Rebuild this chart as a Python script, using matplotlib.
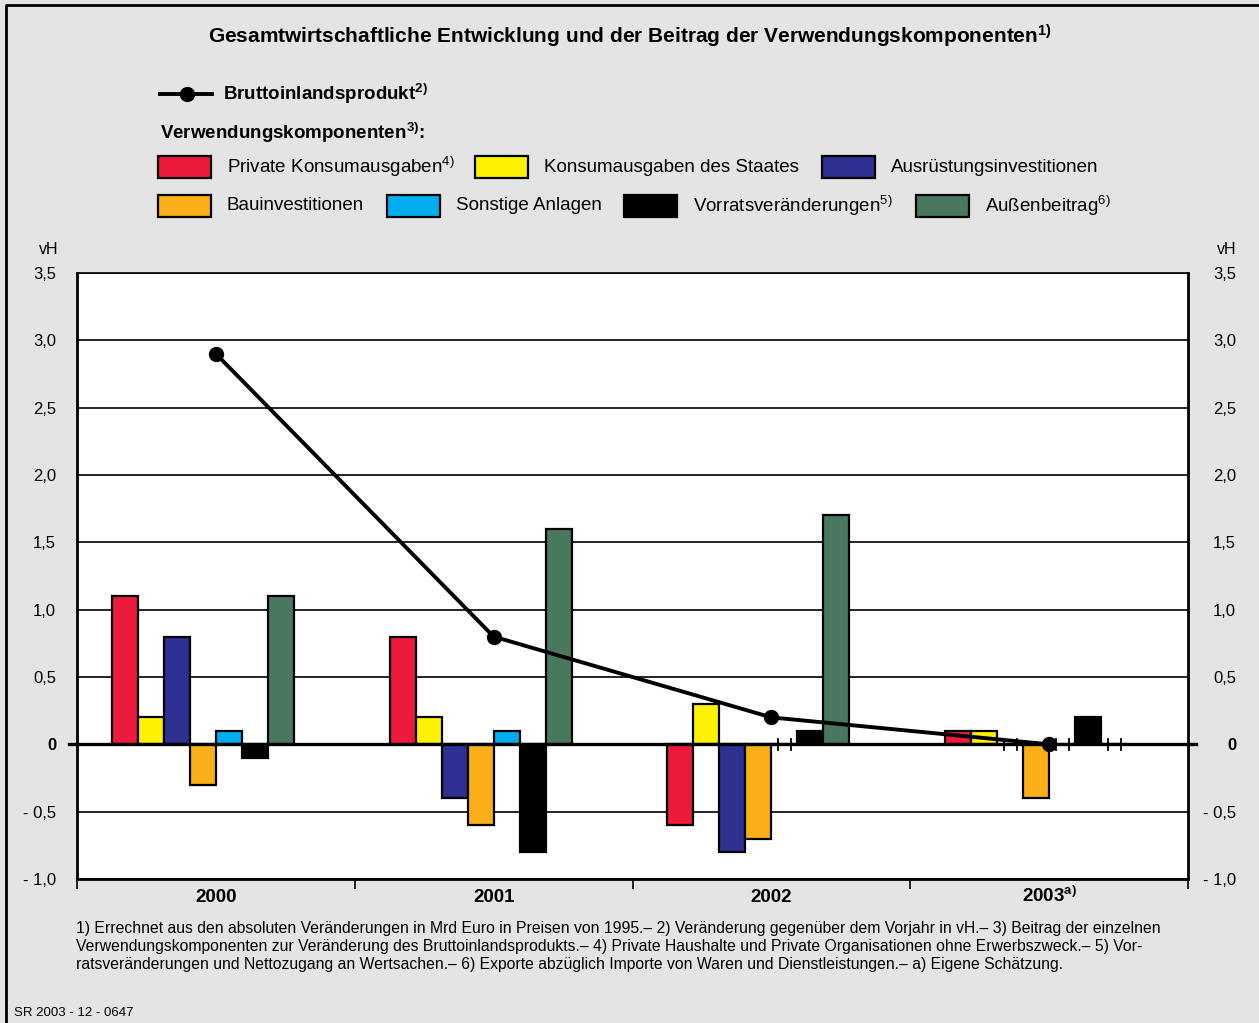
import numpy as np
import matplotlib.pyplot as plt
from matplotlib.patches import Rectangle
from matplotlib.lines import Line2D
import matplotlib.transforms as mtransforms

plt.rcParams['font.family'] = ['Liberation Sans', 'DejaVu Sans']
plt.rcParams['mathtext.default'] = 'regular'

# --- Daten ---
jahre = ['2000', '2001', '2002', '2003$^{a)}$']
bip = [2.9, 0.8, 0.2, 0.0]
komponenten = ['Private Konsumausgaben$^{4)}$', 'Konsumausgaben des Staates',
               'Ausrüstungsinvestitionen', 'Bauinvestitionen', 'Sonstige Anlagen',
               'Vorratsveränderungen$^{5)}$', 'Außenbeitrag$^{6)}$']
werte = {
    'privat':   [1.1, 0.8, -0.6, 0.1],
    'staat':    [0.2, 0.2, 0.3, 0.1],
    'ausr':     [0.8, -0.4, -0.8, 0.0],
    'bau':      [-0.3, -0.6, -0.7, -0.4],
    'sonstige': [0.1, 0.1, 0.0, 0.0],
    'vorrat':   [-0.1, -0.8, 0.1, 0.2],
    'aussen':   [1.1, 1.6, 1.7, 0.0],
}
farben = ['#ED1B3B', '#FFF200', '#2E3192', '#FAAF19', '#00AEEF', '#000000', '#48785E']
yticks = [3.5, 3.0, 2.5, 2.0, 1.5, 1.0, 0.5, 0, -0.5, -1.0]
ytick_labels = ['3,5', '3,0', '2,5', '2,0', '1,5', '1,0', '0,5', '0', '- 0,5', '- 1,0']

W, H = 1259, 1023
bg = '#E4E4E4'
fig = plt.figure(figsize=(W / 100, H / 100), dpi=100, facecolor=bg)


def fx(px):
    return px / W


def fy(py):
    return 1 - py / H


# Rahmen links und oben
fig.add_artist(Line2D([fx(6), fx(6), 1.0], [0.0, fy(5), fy(5)],
                      transform=fig.transFigure, color='black', lw=2))

ax = fig.add_axes([fx(77), fy(879), fx(1188) - fx(77), fy(273) - fy(879)])
ax.set_facecolor('white')
ax.set_xlim(0, 4)
ax.set_ylim(-1.0, 3.5)

# Gitterlinien
for y in yticks:
    if y != 0:
        ax.axhline(y, color='black', lw=1.2, zorder=1)

# Balken
w = 26 / 278.0
x = np.arange(len(jahre)) + 0.5
for i, (key, farbe) in enumerate(zip(werte, farben)):
    links = x + (i - 4) * w
    vals = np.array(werte[key])
    ax.bar(links, vals, width=w, align='edge', color=farbe, edgecolor='black',
           lw=1.6, zorder=3)
    # Nullwerte als kleine Striche
    for xl, v in zip(links, vals):
        if v == 0:
            for xt in (xl + w * 0.25, xl + w * 0.75):
                ax.plot([xt, xt], [-0.04, 0.04], color='black', lw=1.3, zorder=4)

# Nulllinie
trans = mtransforms.blended_transform_factory(ax.transAxes, ax.transData)
ax.plot([-0.007, 1.007], [0, 0], transform=trans, color='black', lw=2.4,
        clip_on=False, zorder=5)

# BIP Linie
ax.plot(x, bip, color='black', lw=2.8, marker='o', markersize=10, zorder=6)

# Achsen
for s in ['left', 'right', 'bottom']:
    ax.spines[s].set_linewidth(2)
ax.spines['top'].set_linewidth(1.2)
ax.set_yticks(yticks)
ax.set_yticklabels(ytick_labels, fontsize=12)
ax.tick_params(axis='y', which='major', left=False, right=False,
               labelleft=True, labelright=True)
for t in ax.yaxis.get_major_ticks():
    t.set_pad(11.5)
    t.label2.set_horizontalalignment('right')
    if t.label1.get_text() == '0':
        t.label1.set_fontweight('bold')
        t.label2.set_fontweight('bold')
# rechte Beschriftung rechtsbündig bei x=1236 px
versatz = mtransforms.ScaledTranslation(48 / 100, 0, fig.dpi_scale_trans)
for lbl in ax.get_yticklabels(which='major'):
    pass
for t in ax.yaxis.get_major_ticks():
    t.label2.set_transform(ax.get_yaxis_transform(which='tick2') + versatz)
ax.set_xticks(np.arange(0, 5))
ax.set_xticklabels([])
ax.tick_params(axis='x', which='major', length=7, width=1.2, direction='out')

# Jahreszahlen
xtrans = mtransforms.blended_transform_factory(ax.transData, fig.transFigure)
for xi, jahr in zip(x, jahre):
    ax.text(xi, fy(902), jahr, transform=xtrans, fontsize=13.5, fontweight='bold',
            ha='center', va='baseline')

fig.text(fx(49), fy(250), 'vH', fontsize=11.5, ha='center', va='center')
fig.text(fx(1227), fy(250), 'vH', fontsize=11.5, ha='center', va='center')

# Titel
fig.text(fx(630), fy(36), 'Gesamtwirtschaftliche Entwicklung und der Beitrag der '
         'Verwendungskomponenten$^{1)}$', fontsize=15, fontweight='bold',
         ha='center', va='center')

# Legende
fig.add_artist(Line2D([fx(160), fx(212)], [fy(94), fy(94)], transform=fig.transFigure,
                      color='black', lw=2.8))
fig.add_artist(Line2D([fx(187)], [fy(94)], transform=fig.transFigure,
                      color='black', marker='o', markersize=10))
fig.text(fx(223), fy(94), 'Bruttoinlandsprodukt$^{2)}$', fontsize=13.5,
         fontweight='bold', va='center')
fig.text(fx(160), fy(133), 'Verwendungskomponenten$^{3)}$:', fontsize=13.5,
         fontweight='bold', va='center')

pos = [(158, 167), (475, 167), (822, 167),
       (158, 206), (387, 206), (624, 206), (916, 206)]
for (px, py), name, farbe in zip(pos, komponenten, farben):
    fig.add_artist(Rectangle((fx(px), fy(py + 11)), fx(53), 22 / H,
                             transform=fig.transFigure, facecolor=farbe,
                             edgecolor='black', lw=1.6))
    fig.text(fx(px + 69), fy(py), name, fontsize=13.5, va='center')

# Fussnoten
fussnoten = [
    '1) Errechnet aus den absoluten Veränderungen in Mrd Euro in Preisen von 1995.– '
    '2) Veränderung gegenüber dem Vorjahr in vH.– 3) Beitrag der einzelnen',
    'Verwendungskomponenten zur Veränderung des Bruttoinlandsprodukts.– 4) Private '
    'Haushalte und Private Organisationen ohne Erwerbszweck.– 5) Vor-',
    'ratsveränderungen und Nettozugang an Wertsachen.– 6) Exporte abzüglich Importe '
    'von Waren und Dienstleistungen.– a) Eigene Schätzung.',
]
for k, zeile in enumerate(fussnoten):
    fig.text(fx(76), fy(928 + k * 18.5), zeile, fontsize=11.3, va='center')

fig.text(fx(14), fy(1013), 'SR 2003 - 12 - 0647', fontsize=9.5, va='center')

fig.savefig('out.png', dpi=100, facecolor=bg)
